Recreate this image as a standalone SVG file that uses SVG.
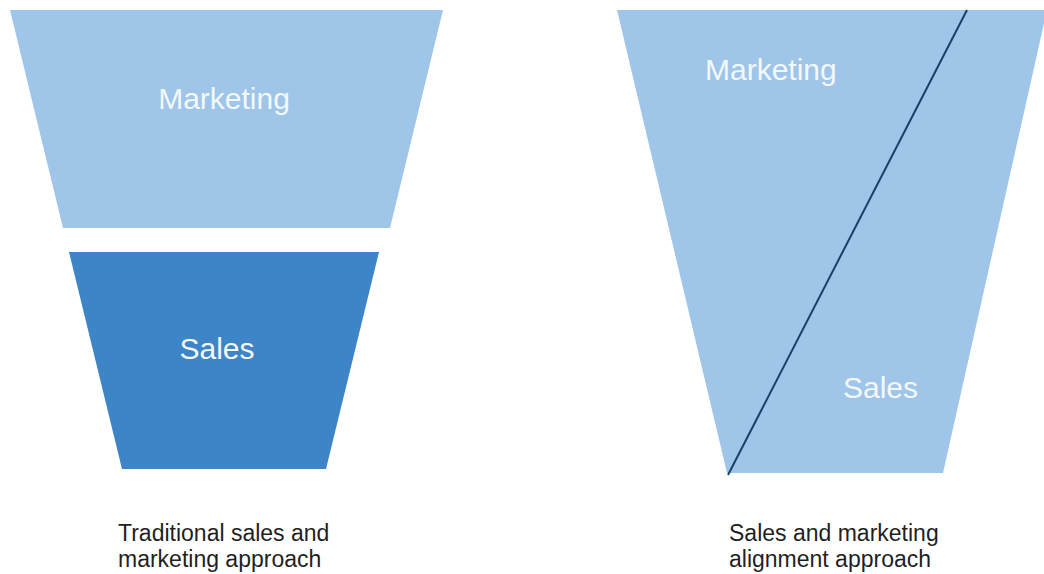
<svg xmlns="http://www.w3.org/2000/svg" width="1044" height="574" viewBox="0 0 1044 574">
<style>
.light{fill:#9fc5e8;}
.dark{fill:#3d85c6;}
.lbl{font-family:"Liberation Sans",Arial,sans-serif;font-size:30px;fill:#f3f8fc;}
.cap{font-family:"Liberation Sans",Arial,sans-serif;font-size:23px;fill:#1f1f1f;}
</style>
<rect width="1044" height="574" fill="#ffffff"/>
<g id="trad-marketing">
<polygon class="light" points="10,10 443,10 390,228 63,228"/>
<text class="lbl" x="224" y="109" text-anchor="middle">Marketing</text>
</g>
<g id="trad-sales">
<polygon class="dark" points="69,252 379,252 326,469 122,469"/>
<text class="lbl" x="217" y="359" text-anchor="middle">Sales</text>
</g>
<g id="align-funnel">
<polygon class="light" points="617,10 1047,10 943,473 727,473"/>
<text class="lbl" x="705" y="80">Marketing</text>
<text class="lbl" x="843" y="398">Sales</text>
</g>
<g id="connectors">
<line x1="967" y1="10" x2="728" y2="475" stroke="#1c3f66" stroke-width="2"/>
</g>
<g id="caption-left">
<text class="cap" x="118" y="541">Traditional sales and</text>
<text class="cap" x="118" y="567">marketing approach</text>
</g>
<g id="caption-right">
<text class="cap" x="729" y="541">Sales and marketing</text>
<text class="cap" x="729" y="567">alignment approach</text>
</g>
</svg>
